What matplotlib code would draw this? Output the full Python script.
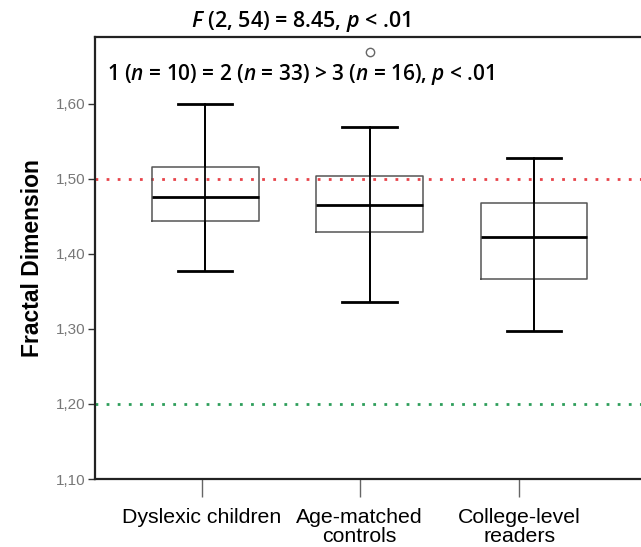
import matplotlib.pyplot as plt

plt.rcParams['mathtext.fontset'] = 'custom'
plt.rcParams['mathtext.it'] = 'Open Sans:italic:semibold'
plt.rcParams['mathtext.rm'] = 'Open Sans:semibold'

groups = ['Dyslexic children', 'Age-matched\ncontrols', 'College-level\nreaders']
whisker_low = [1.377, 1.336, 1.297]
q1 = [1.444, 1.429, 1.367]
median = [1.476, 1.465, 1.423]
q3 = [1.516, 1.504, 1.468]
whisker_high = [1.600, 1.569, 1.528]
outliers = [[], [1.669], []]
ref_lines = [1.50, 1.20]
ref_colors = ['#e8434a', '#2e9e5b']
yticks = [1.10, 1.20, 1.30, 1.40, 1.50, 1.60]

positions = [1, 2, 3]
label_positions = [0.98, 1.94, 2.91]

fig = plt.figure(figsize=(6.41, 5.47), dpi=100)
ax = fig.add_axes([0.148, 0.1243, 0.857, 0.808])

stats = []
for i in range(len(groups)):
    stats.append({'whislo': whisker_low[i], 'q1': q1[i], 'med': median[i],
                  'q3': q3[i], 'whishi': whisker_high[i], 'fliers': outliers[i]})

for y, c in zip(ref_lines, ref_colors):
    ax.axhline(y, color=c, linestyle=(0, (1, 3)), linewidth=2, zorder=1)

# whisker line runs through the box, like SPSS draws it
ax.vlines(positions, whisker_low, whisker_high, color='black', linewidth=1.3, zorder=2)

ax.bxp(stats, positions=positions, widths=0.65, capwidths=0.33,
       boxprops=dict(color='#555555', linewidth=1.1),
       medianprops=dict(color='black', linewidth=2),
       whiskerprops=dict(color='black', linewidth=1.3),
       capprops=dict(color='black', linewidth=2),
       flierprops=dict(marker='o', markerfacecolor='white', markeredgecolor='#666666',
                       markersize=6, markeredgewidth=1),
       zorder=3)

ax.set_xlim(0.33, 3.67)
ax.set_ylim(1.10, 1.689)
ax.set_yticks(yticks)
ax.set_yticklabels([f'{v:.2f}'.replace('.', ',') for v in yticks],
                   fontsize=11, color='#777777',
                   family=['Liberation Sans Narrow', 'Liberation Sans'])
ax.set_xticks(label_positions)
ax.set_xticklabels(groups, fontsize=15.3, family='Liberation Sans', linespacing=1.0)
ax.tick_params(axis='x', length=13, width=1, color='#666666', pad=8)
ax.tick_params(axis='y', length=5, width=1, color='#333333', pad=2)
ax.spines['right'].set_visible(False)
for s in ['left', 'top', 'bottom']:
    ax.spines[s].set_linewidth(1.6)
    ax.spines[s].set_color('#222222')

ax.set_ylabel('Fractal Dimension', fontsize=16.5, fontweight='bold',
              family='Liberation Sans', labelpad=8)

fig.text(0.469, 0.961, r'$F$ (2, 54) = 8.45, $p$ < .01', ha='center', va='center',
         fontsize=15.5, family='Open Sans', fontweight='semibold')
ax.text(0.375, 0.915, r'1 ($n$ = 10) = 2 ($n$ = 33) > 3 ($n$ = 16), $p$ < .01',
        transform=ax.transAxes, ha='center', va='center', fontsize=15,
        family='Open Sans', fontweight='semibold')

fig.savefig('out.png', dpi=100)
